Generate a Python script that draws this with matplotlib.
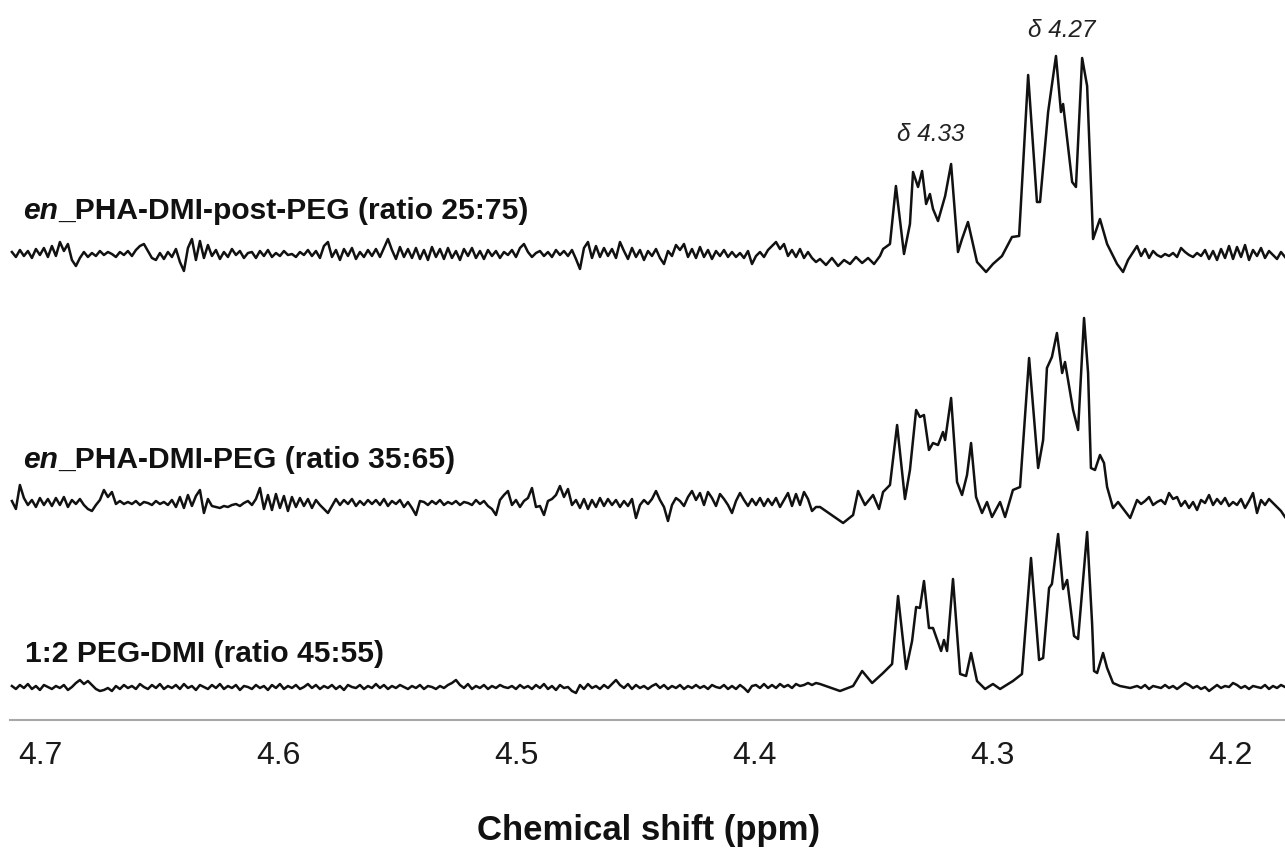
import numpy as np
import matplotlib
matplotlib.use("Agg")
import matplotlib.pyplot as plt

plt.rcParams['font.family'] = ['Liberation Sans', 'DejaVu Sans']

# ---------------- data (ppm axis, intensities in arbitrary units) ----------------
ppm_left = np.linspace(4.7122, 4.3741, 202)    # baseline region left of signals
ppm_right = np.linspace(4.2391, 4.1769, 38)    # baseline region right of signals

top_noise_left = [
    2, -3, 4, -2, 3, -4, 5, -1, 6, -3,
    8, -2, 12, 3, 10, -6, -12, -4, 2, -3,
    1, -2, 3, -1, 2, 0, -3, 2, -1, 3,
    -2, 4, 8, 10, 3, -4, -6, 1, -5, 2,
    -3, 5, -8, -17, 6, 15, -6, 13, -4, 9,
    -2, 4, -5, 2, -3, 5, -1, 3, -4, 1,
    2, -4, 3, -2, 4, -3, 1, -2, 3, -1,
    0, -3, 2, -1, 4, -2, 3, -4, 8, 12,
    -3, 4, -6, 5, -2, 6, -5, 2, -3, 4,
    -2, 5, -3, 6, 15, 4, -5, 7, -3, 5,
    -4, 6, -5, 4, -6, 7, -3, 5, -5, 6,
    -4, 3, -6, 5, -2, 6, -4, 3, -5, 4,
    -2, 3, -4, 2, -1, 4, -3, 6, 10, 2,
    -3, 1, 3, -2, 2, -3, 4, -1, 3, -2,
    4, -5, -15, 6, 12, -4, 8, -3, 6, -2,
    5, -4, 12, 3, -5, 6, -3, 4, -6, 3,
    -2, 5, -4, -10, 3, -2, 9, 4, 10, -3,
    5, -4, 7, -3, 4, -5, 3, -2, 4, -3,
    2, -3, 1, -4, 3, -10, -2, 2, -3, 4,
    8, 12, 5, 10, -2, 4, -3, 5, -4, 2,
    -4, -8]
top_peak_ppm = [4.3724, 4.3699, 4.3674, 4.3648, 4.3623, 4.3598, 4.3573, 4.3547, 4.3522, 4.3497,
                4.3472, 4.3459, 4.3430, 4.3405, 4.3371, 4.3346, 4.3333, 4.3312, 4.3295, 4.3278,
                4.3262, 4.3249, 4.3228, 4.3198, 4.3173, 4.3144, 4.3127, 4.3102, 4.3064, 4.3026,
                4.2997, 4.2959, 4.2917, 4.2887, 4.2849, 4.2812, 4.2799, 4.2765, 4.2732, 4.2711,
                4.2702, 4.2664, 4.2648, 4.2622, 4.2601, 4.2576, 4.2547, 4.2517, 4.2475, 4.2450,
                4.2429]
top_peak_int = [-5, -11, -4, -12, -6, -10, -3, -9, -4, -10,
                -2, 5, 10, 68, 0, 30, 82, 67, 83, 50,
                60, 45, 33, 58, 90, 2, 15, 32, -8, -18,
                -10, -2, 17, 18, 179, 52, 52, 142, 198, 142,
                150, 72, 67, 196, 168, 15, 35, 10, -10, -18,
                -6]
top_noise_right = [8, -2, 5, -4, 3, -1, -3, 0, -2, 1,
                   -3, 6, 2, -1, -3, 1, -2, 4, -5, 3,
                   -6, 5, -4, 8, -5, 7, -3, 9, -6, 4,
                   -2, 6, -4, 3, -1, -5, 2, -3]

mid_noise_left = [
    2, -6, 18, 5, -2, 3, -4, 5, -2, 4,
    -3, 5, -2, 6, -4, 3, -1, 4, -2, -6,
    -8, -2, 3, 13, 6, 11, -1, 2, -1, 1,
    -1, 2, -2, 1, 0, -2, 2, -1, 1, -2,
    3, -4, 6, -5, 8, -3, 7, 13, -10, 4,
    -3, -4, -5, -3, -4, -2, -1, -3, 0, 2,
    -2, 4, 15, -6, 8, -7, 9, -5, 7, -8,
    6, -4, 5, -3, 4, -5, 3, -2, -6, -10,
    -3, 4, -2, 3, -1, 4, -3, 2, -2, 3,
    -1, 3, -2, 4, -3, 2, -1, 3, -4, 1,
    -5, -12, 2, 1, -2, 2, -1, 3, -2, 1,
    -1, 2, -2, 1, 0, -2, 3, -1, 2, -3,
    -6, -12, 3, 8, 12, -2, 3, -4, 2, 5,
    15, -4, -3, -12, 2, 4, 8, 17, 6, 14,
    -2, 3, -5, 4, -6, 3, -4, 5, -3, 4,
    -2, 3, -4, 2, -3, 4, -15, -2, 3, -1,
    4, 12, 3, -4, -18, -2, 5, 2, -3, 6,
    12, 3, 10, -2, 11, 5, -3, 9, 4, -2,
    -10, 2, 10, 3, -3, 4, -2, 5, -3, 4,
    -2, 5, -4, 3, 10, -3, 9, -2, 11, 4,
    -8, -4]
mid_peak_ppm = [4.3724, 4.3627, 4.3585, 4.3564, 4.3535, 4.3501, 4.3476, 4.3459, 4.3430, 4.3400,
                4.3367, 4.3346, 4.3320, 4.3304, 4.3287, 4.3266, 4.3249, 4.3228, 4.3207, 4.3198,
                4.3173, 4.3148, 4.3127, 4.3106, 4.3089, 4.3068, 4.3043, 4.3022, 4.3001, 4.2967,
                4.2946, 4.2913, 4.2883, 4.2845, 4.2807, 4.2786, 4.2770, 4.2749, 4.2728, 4.2706,
                4.2694, 4.2660, 4.2639, 4.2614, 4.2597, 4.2585, 4.2568, 4.2547, 4.2530, 4.2517,
                4.2492, 4.2471, 4.2420]
mid_peak_int = [-4, -20, -12, 12, -2, 8, -6, 11, 18, 78,
                4, 33, 93, 86, 88, 53, 60, 58, 71, 63,
                105, 21, 8, 28, 60, 6, -10, 1, -14, 1,
                -14, 13, 16, 145, 35, 63, 135, 146, 170, 130,
                141, 93, 73, 185, 130, 35, 33, 48, 40, 16,
                -5, 1, -15]
mid_noise_right = [3, -1, 2, 6, -2, 1, 3, -1, 10, 4,
                   6, -3, 2, -5, 1, -7, 3, 0, 8, -2,
                   4, -1, 5, -3, 1, -2, 4, -5, 2, 10,
                   -10, 3, -2, 4, 0, -4, -8, -14]

bot_noise_left = [
    1, -2, 2, -1, 3, -2, 1, -3, 2, 0,
    -2, 1, -1, 2, -3, 0, 4, 7, 3, 6,
    2, -2, -4, -3, -1, -4, 1, -2, 2, -1,
    1, -2, 3, 0, -2, 2, -1, 3, -2, 1,
    -1, 2, -2, 3, -1, 1, -3, 2, 0, -2,
    2, -1, 3, -2, 1, -1, 2, -3, 1, 0,
    -2, 2, -1, 1, -3, 2, -1, 3, -2, 1,
    -1, 2, -2, 0, 3, -1, 2, -2, 1, -1,
    2, -2, 1, -3, 2, 0, -1, 2, -2, 1,
    -1, 3, -1, 2, -2, 1, -1, 2, 0, -2,
    1, -1, 2, -2, 1, 0, -2, 1, -1, 2,
    4, 7, 2, -1, 3, -2, 1, -1, 2, -2,
    1, -1, 2, 0, -1, 1, -2, 2, -1, 1,
    -2, 2, -1, 3, -2, 1, -3, 2, -1, 0,
    -4, -6, 2, -2, 3, -1, 1, -2, 2, -1,
    3, 7, 2, -1, 3, -2, 2, -1, 1, -2,
    1, 3, -1, 2, -2, 1, -1, 2, -2, 1,
    -1, 2, -1, 1, -2, 2, 0, -1, 2, -2,
    1, -2, 2, -1, -5, 1, 2, -1, 3, -1,
    2, -1, 3, 0, 2, -1, 3, 1, 2, 4,
    2, 4]
bot_peak_ppm = [4.3724, 4.3640, 4.3585, 4.3547, 4.3505, 4.3459, 4.3421, 4.3396, 4.3362, 4.3337,
                4.3320, 4.3304, 4.3287, 4.3266, 4.3249, 4.3215, 4.3203, 4.3190, 4.3165, 4.3135,
                4.3110, 4.3089, 4.3064, 4.3030, 4.2997, 4.2967, 4.2913, 4.2875, 4.2837, 4.2803,
                4.2786, 4.2761, 4.2749, 4.2723, 4.2702, 4.2685, 4.2656, 4.2639, 4.2601, 4.2580,
                4.2572, 4.2559, 4.2534, 4.2517, 4.2492, 4.2463, 4.2420]
bot_peak_int = [3, -4, 1, 16, 4, 14, 23, 91, 18, 46,
                80, 79, 106, 59, 59, 36, 47, 36, 108, 13,
                11, 34, 6, -2, 3, -2, 6, 13, 129, 27,
                29, 99, 103, 153, 98, 107, 51, 48, 155, 63,
                16, 14, 34, 19, 4, 1, -1]
bot_noise_right = [1, -1, 2, -2, 1, 0, -1, 2, -1, 1,
                   -2, 1, 4, 2, -1, 1, -2, 0, -4, -1,
                   2, -1, 1, 0, 4, 2, -1, 1, -2, 1,
                   0, -1, 2, -2, 1, -1, 2, 0]

trace_names = ["PHA-DMI-post-PEG (ratio 25:75)",
               "PHA-DMI-PEG (ratio 35:65)",
               "1:2 PEG-DMI (ratio 45:55)"]
tick_values = [4.7, 4.6, 4.5, 4.4, 4.3, 4.2]
tick_labels = ["4.7", "4.6", "4.5", "4.4", "4.3", "4.2"]
peak_labels = ["δ 4.27", "δ 4.33"]
xlabel = "Chemical shift (ppm)"

# ---------------- figure ----------------
W, H = 1285, 850
fig = plt.figure(figsize=(W / 100, H / 100), dpi=100)
ax = fig.add_axes([10 / W, 130 / H, 1275 / W, 720 / H])

offsets = [466, 217, 33]
traces = [
    (top_noise_left, top_peak_ppm, top_peak_int, top_noise_right),
    (mid_noise_left, mid_peak_ppm, mid_peak_int, mid_noise_right),
    (bot_noise_left, bot_peak_ppm, bot_peak_int, bot_noise_right),
]
for (nl, pp, pi, nr), off in zip(traces, offsets):
    x = np.concatenate([ppm_left, np.array(pp), ppm_right])
    y = np.concatenate([np.array(nl), np.array(pi), np.array(nr)]) + off
    ax.plot(x, y, color="#111111", lw=1.8, solid_joinstyle="round")

ax.set_xlim(4.7130, 4.1769)
ax.set_ylim(0, 720)
for s in ("left", "right", "top"):
    ax.spines[s].set_visible(False)
ax.spines["bottom"].set_color("#a8a8a8")
ax.spines["bottom"].set_linewidth(1.5)
ax.set_yticks([])
ax.set_xticks(tick_values)
ax.set_xticklabels(tick_labels, fontsize=23, color="#1a1a1a")
ax.tick_params(axis="x", length=0, pad=15)

fig.text(649 / W, 1 - 840 / H, xlabel, ha="center", va="baseline",
         fontsize=25, fontweight="bold", color="#111111")

# trace labels
label_baselines = [219, 468, 662]
for i, (name, yb) in enumerate(zip(trace_names, label_baselines)):
    if i < 2:
        t = fig.text(23 / W, 1 - yb / H, "en", fontsize=21.6, fontweight="bold",
                     fontstyle="italic", va="baseline", ha="left", color="#111111")
        ax.annotate("_" + name, xy=(1, 0), xycoords=t, va="bottom", ha="left",
                    fontsize=21.6, fontweight="bold", color="#111111")
    else:
        fig.text(25 / W, 1 - yb / H, name, fontsize=21.6, fontweight="bold",
                 va="baseline", ha="left", color="#111111")

# peak annotations
fig.text(1062 / W, 1 - 37 / H, peak_labels[0], fontsize=17.5, fontstyle="italic",
         ha="center", va="baseline", color="#222222")
fig.text(931 / W, 1 - 141 / H, peak_labels[1], fontsize=17.5, fontstyle="italic",
         ha="center", va="baseline", color="#222222")

fig.savefig("out.png", dpi=100)
